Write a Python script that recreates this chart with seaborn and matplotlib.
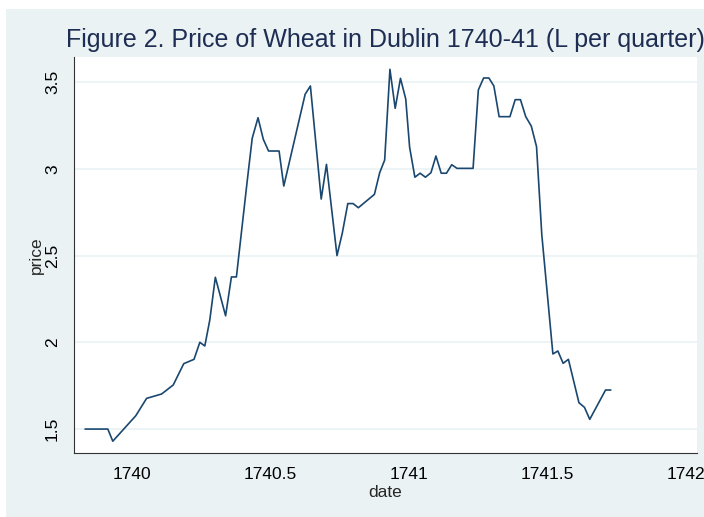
import seaborn as sns
import matplotlib.pyplot as plt
import matplotlib.patches as patches
import pandas as pd

# weekly wheat price readings, date as decimal year
dates = [1739.832, 1739.914, 1739.932, 1740.015, 1740.054, 1740.108, 1740.150,
         1740.188, 1740.225, 1740.246, 1740.264, 1740.282, 1740.302, 1740.339,
         1740.360, 1740.378, 1740.417, 1740.435, 1740.456, 1740.475, 1740.494,
         1740.532, 1740.549, 1740.626, 1740.645, 1740.684, 1740.703, 1740.741,
         1740.760, 1740.780, 1740.799, 1740.818, 1740.876, 1740.895, 1740.913,
         1740.932, 1740.951, 1740.970, 1740.989, 1741.003, 1741.022, 1741.041,
         1741.060, 1741.080, 1741.098, 1741.117, 1741.136, 1741.155, 1741.174,
         1741.232, 1741.251, 1741.270, 1741.289, 1741.307, 1741.326, 1741.365,
         1741.384, 1741.403, 1741.422, 1741.442, 1741.461, 1741.480, 1741.520,
         1741.538, 1741.557, 1741.576, 1741.614, 1741.634, 1741.653, 1741.710,
         1741.729]
prices = [1.50, 1.50, 1.43, 1.577, 1.677, 1.702, 1.754,
          1.877, 1.902, 2.00, 1.979, 2.129, 2.375, 2.153,
          2.377, 2.377, 2.93, 3.176, 3.295, 3.171, 3.103,
          3.103, 2.901, 3.43, 3.478, 2.826, 3.026, 2.50,
          2.629, 2.80, 2.80, 2.776, 2.853, 2.978, 3.051,
          3.574, 3.349, 3.522, 3.403, 3.125, 2.952, 2.975,
          2.952, 2.978, 3.074, 2.975, 2.975, 3.024, 3.003,
          3.003, 3.455, 3.524, 3.524, 3.478, 3.301, 3.301,
          3.399, 3.399, 3.301, 3.247, 3.128, 2.62, 1.933,
          1.950, 1.879, 1.902, 1.652, 1.625, 1.556, 1.725,
          1.725]
xticks = [1740, 1740.5, 1741, 1741.5, 1742]
xtick_labels = ["1740", "1740.5", "1741", "1741.5", "1742"]
yticks = [1.5, 2, 2.5, 3, 3.5]
ytick_labels = ["1.5", "2", "2.5", "3", "3.5"]

df = pd.DataFrame({"date": dates, "price": prices})

sns.set_style("white")
plt.rcParams['font.family'] = ['Liberation Sans', 'DejaVu Sans']

W, H = 704, 517
fig = plt.figure(figsize=(W / 100, H / 100), dpi=100)
fig.patch.set_facecolor("white")
# Stata-like outer graph region
bg = patches.Rectangle((6 / W, 0), 1, 1 - 9 / H, transform=fig.transFigure,
                       facecolor="#EAF2F3", edgecolor="none", zorder=-10)
fig.add_artist(bg)

ax = fig.add_axes([74 / W, 1 - 453 / H, (697 - 74) / W, (453 - 57) / H])
ax.set_zorder(1)
ax.set_facecolor("white")
sns.lineplot(data=df, x="date", y="price", ax=ax, color="#1A476F", lw=1.2,
             estimator=None, sort=False)

ax.set_xlim(1739.792, 1742.04)
ax.set_ylim(1.362, 3.645)
ax.set_xticks(xticks)
ax.set_xticklabels(xtick_labels)
ax.set_yticks(yticks)
ax.set_yticklabels(ytick_labels, rotation=90, va="center")
ax.tick_params(axis="both", direction="out", length=6, width=0.8, color="#333333",
               labelsize=12.5, labelcolor="black", pad=4)
ax.yaxis.grid(True, color="#EAF2F3", lw=1.2)
ax.xaxis.grid(False)
for s in ["top", "right"]:
    ax.spines[s].set_visible(False)
for s in ["left", "bottom"]:
    ax.spines[s].set_color("#333333")
    ax.spines[s].set_linewidth(0.8)

ax.set_xlabel("date", fontsize=12.5, labelpad=2)
ax.set_ylabel("price", fontsize=12.5, labelpad=1)

fig.text(66 / W, 1 - 40 / H, "Figure 2. Price of Wheat in Dublin 1740-41 (L per quarter)",
         fontsize=18, color="#1E2D53", va="center", ha="left")

fig.savefig("out.png", dpi=100)
